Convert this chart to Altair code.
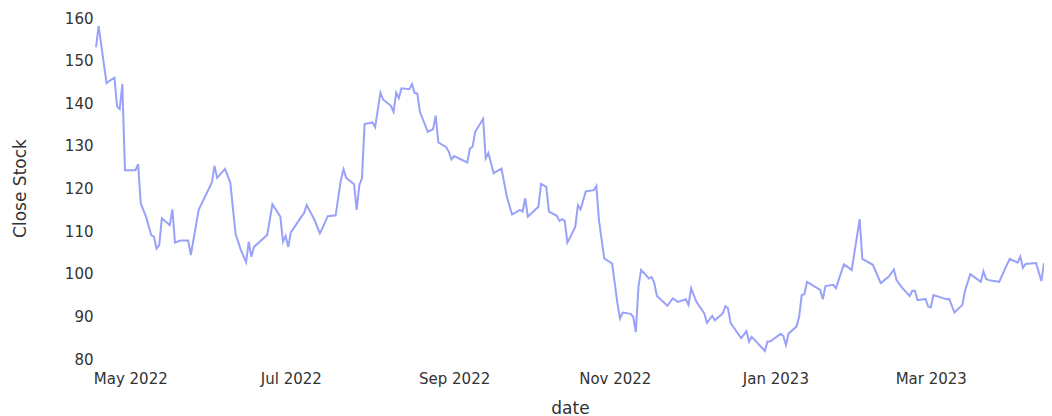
import altair as alt
import pandas as pd

dates = [
    "2022-04-18", "2022-04-19", "2022-04-22", "2022-04-23", "2022-04-25", "2022-04-26",
    "2022-04-27", "2022-04-28", "2022-04-29", "2022-05-03", "2022-05-04", "2022-05-05",
    "2022-05-07", "2022-05-09", "2022-05-10", "2022-05-11", "2022-05-12", "2022-05-13",
    "2022-05-16", "2022-05-17", "2022-05-18", "2022-05-20", "2022-05-23", "2022-05-24",
    "2022-05-27", "2022-06-01", "2022-06-02", "2022-06-03", "2022-06-06", "2022-06-08",
    "2022-06-10", "2022-06-12", "2022-06-14", "2022-06-15", "2022-06-16", "2022-06-17",
    "2022-06-22", "2022-06-24", "2022-06-27", "2022-06-28", "2022-06-29", "2022-06-30",
    "2022-07-01", "2022-07-05", "2022-07-06", "2022-07-07", "2022-07-10", "2022-07-12",
    "2022-07-13", "2022-07-15", "2022-07-18", "2022-07-20", "2022-07-21", "2022-07-22",
    "2022-07-25", "2022-07-26", "2022-07-27", "2022-07-28", "2022-07-29", "2022-08-01",
    "2022-08-02", "2022-08-04", "2022-08-05", "2022-08-08", "2022-08-09", "2022-08-10",
    "2022-08-11", "2022-08-12", "2022-08-15", "2022-08-16", "2022-08-17", "2022-08-18",
    "2022-08-19", "2022-08-22", "2022-08-24", "2022-08-25", "2022-08-26", "2022-08-29",
    "2022-08-30", "2022-08-31", "2022-09-01", "2022-09-06", "2022-09-07", "2022-09-08",
    "2022-09-09", "2022-09-12", "2022-09-13", "2022-09-14", "2022-09-16", "2022-09-19",
    "2022-09-21", "2022-09-23", "2022-09-26", "2022-09-27", "2022-09-28", "2022-09-29",
    "2022-10-03", "2022-10-04", "2022-10-06", "2022-10-07", "2022-10-10", "2022-10-11",
    "2022-10-12", "2022-10-13", "2022-10-14", "2022-10-17", "2022-10-18", "2022-10-19",
    "2022-10-21", "2022-10-24", "2022-10-25", "2022-10-26", "2022-10-28", "2022-10-31",
    "2022-11-02", "2022-11-03", "2022-11-04", "2022-11-07", "2022-11-08", "2022-11-09",
    "2022-11-10", "2022-11-11", "2022-11-14", "2022-11-15", "2022-11-16", "2022-11-17",
    "2022-11-21", "2022-11-23", "2022-11-25", "2022-11-28", "2022-11-29", "2022-11-30",
    "2022-12-02", "2022-12-05", "2022-12-06", "2022-12-08", "2022-12-09", "2022-12-12",
    "2022-12-13", "2022-12-14", "2022-12-15", "2022-12-19", "2022-12-21", "2022-12-22",
    "2022-12-23", "2022-12-28", "2022-12-29", "2022-12-30", "2023-01-03", "2023-01-04",
    "2023-01-05", "2023-01-06", "2023-01-09", "2023-01-10", "2023-01-11", "2023-01-12",
    "2023-01-13", "2023-01-18", "2023-01-19", "2023-01-20", "2023-01-23", "2023-01-24",
    "2023-01-25", "2023-01-27", "2023-01-30", "2023-01-31", "2023-02-02", "2023-02-03",
    "2023-02-07", "2023-02-10", "2023-02-13", "2023-02-15", "2023-02-16", "2023-02-18",
    "2023-02-21", "2023-02-22", "2023-02-23", "2023-02-24", "2023-02-27", "2023-02-28",
    "2023-03-01", "2023-03-02", "2023-03-05", "2023-03-07", "2023-03-08", "2023-03-10",
    "2023-03-13", "2023-03-14", "2023-03-16", "2023-03-20", "2023-03-21", "2023-03-22",
    "2023-03-23", "2023-03-27", "2023-03-29", "2023-03-31", "2023-04-03", "2023-04-04",
    "2023-04-05", "2023-04-06", "2023-04-10", "2023-04-12", "2023-04-13",
]

close = [
    153.1, 158.1, 144.7, 145.2, 146.0, 139.2,
    138.6, 144.5, 124.3, 124.3, 125.7, 116.5,
    113.4, 109.0, 108.7, 105.9, 106.7, 113.0,
    111.4, 115.1, 107.3, 107.8, 107.8, 104.4,
    115.0, 121.4, 125.3, 122.5, 124.6, 121.4,
    109.3, 105.6, 102.7, 107.5, 104.0, 106.3,
    109.1, 116.3, 113.4, 107.5, 108.9, 106.3,
    109.7, 113.4, 114.2, 116.1, 112.6, 109.5,
    110.7, 113.5, 113.7, 122.0, 124.5, 122.5,
    121.0, 115.0, 120.8, 122.4, 135.1, 135.5,
    134.4, 142.5, 140.9, 139.4, 138.0, 142.5,
    141.2, 143.5, 143.3, 144.5, 142.4, 142.3,
    138.0, 133.3, 133.9, 137.1, 130.8, 129.7,
    128.6, 126.8, 127.6, 126.1, 129.4, 129.8,
    133.3, 136.3, 127.1, 128.3, 123.6, 124.7,
    118.1, 113.9, 115.0, 114.6, 117.7, 113.4,
    115.7, 121.1, 120.4, 114.6, 113.6, 112.4,
    112.8, 112.4, 107.3, 111.0, 116.1, 115.1,
    119.3, 119.6, 120.6, 112.6, 103.6, 102.4,
    93.1, 89.5, 90.9, 90.6, 89.9, 86.3,
    97.0, 100.9, 98.9, 99.2, 97.9, 94.8,
    92.5, 94.2, 93.4, 94.0, 92.7, 96.6,
    93.4, 90.7, 88.5, 90.1, 89.1, 90.7,
    92.4, 91.9, 88.4, 84.9, 86.5, 84.1,
    85.2, 81.9, 84.1, 84.1, 85.9, 85.4,
    83.3, 86.0, 87.6, 89.9, 95.0, 95.2,
    98.1, 96.2, 94.0, 97.1, 97.4, 96.6,
    98.5, 102.2, 100.9, 104.9, 112.8, 103.5,
    102.1, 97.8, 99.3, 101.0, 98.5, 96.8,
    94.8, 96.0, 96.0, 93.8, 94.1, 92.3,
    92.1, 95.0, 94.4, 94.0, 94.1, 90.9,
    92.7, 96.0, 99.9, 98.1, 100.6, 98.8,
    98.5, 98.1, 100.9, 103.5, 102.6, 104.0,
    101.4, 102.3, 102.5, 98.3, 102.5,
]

y_ticks = [80, 90, 100, 110, 120, 130, 140, 150, 160]
x_tick_months = [(2022, 5), (2022, 7), (2022, 9), (2022, 11), (2023, 1), (2023, 3)]

df = pd.DataFrame({"date": dates, "Close Stock": close})

FONT = "DejaVu Sans"
TEXT = "#333333"

x_axis = alt.Axis(
    values=[alt.DateTime(year=y, month=m, date=1, utc=True) for y, m in x_tick_months],
    format="%b %Y",
    title="date",
    grid=False,
    domain=False,
    ticks=False,
    tickSize=0,
    labelFont=FONT,
    labelFontSize=15,
    labelColor=TEXT,
    labelPadding=12,
    labelFlush=False,
    titleFont=FONT,
    titleFontSize=17,
    titleFontWeight="normal",
    titleColor=TEXT,
    titleBaseline="alphabetic",
    titleY=54,
)

y_axis = alt.Axis(
    values=y_ticks,
    title="Close Stock",
    grid=False,
    domain=False,
    ticks=False,
    tickSize=0,
    labelFont=FONT,
    labelFontSize=15,
    labelColor=TEXT,
    labelPadding=3,
    labelFlush=False,
    titleFont=FONT,
    titleFontSize=17,
    titleFontWeight="normal",
    titleColor=TEXT,
    titleAngle=270,
    titleAlign="center",
    titleBaseline="middle",
    titleX=-76,
    titleY=170,
)

chart = (
    alt.Chart(df)
    .mark_line(color="#99a1f8", strokeWidth=2, clip=False)
    .encode(
        x=alt.X(
            "date:T",
            scale=alt.Scale(
                type="utc",
                domain=[
                    alt.DateTime(year=2022, month=4, date=18, utc=True),
                    alt.DateTime(year=2023, month=4, date=13, utc=True),
                ],
            ),
            axis=x_axis,
        ),
        y=alt.Y(
            "Close Stock:Q",
            scale=alt.Scale(domain=[80, 160], zero=False, nice=False),
            axis=y_axis,
        ),
    )
    .properties(
        width=948,
        height=341,
        autosize=alt.AutoSizeParams(type="none"),
        padding={"left": 88, "top": 10, "right": 0, "bottom": 57},
        background="white",
    )
    .configure_view(stroke=None)
)

chart.save("out.html", embed_options={"renderer": "svg", "actions": False})
